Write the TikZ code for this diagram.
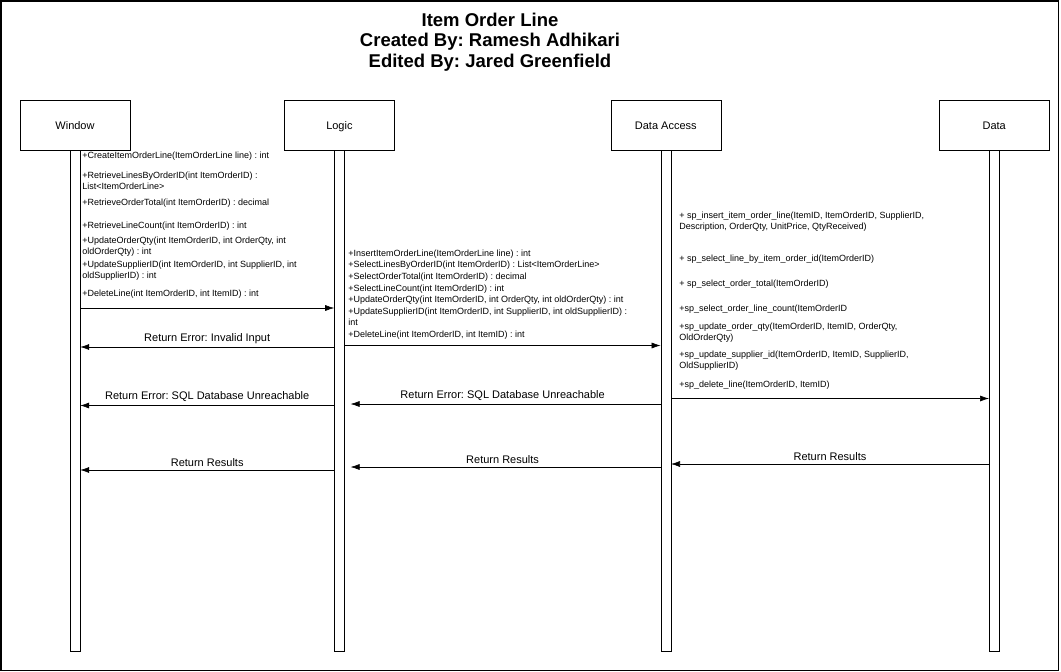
\documentclass[tikz,border=0pt]{standalone}
\usepackage{fontspec}
\setmainfont{Liberation Sans}
\usetikzlibrary{arrows,arrows.meta}
\usetikzlibrary{positioning}
\frenchspacing

\begin{document}
\begin{tikzpicture}[x=1pt,y=-1pt,>={Latex[length=9pt,width=6pt]},semithick]
  \tikzset{
    actor/.style={draw,thin,minimum width=110pt,minimum height=50pt,text height=9.5pt,text depth=0pt,font=\fontsize{11}{13}\selectfont},
    bar/.style={draw,thin,minimum width=10pt,minimum height=501pt,inner sep=0pt},
    meth/.style={anchor=north west,align=left,inner sep=0pt,font=\fontsize{9}{11}\selectfont},
    ret/.style={font=\fontsize{11}{13}\selectfont}
  }
  \useasboundingbox (0,0) rectangle (1061,672);
  \draw[line width=1.5pt] (1,1) rectangle (1058.5,670.5);

  \node[align=center,font=\bfseries\fontsize{18.5}{20.5}\selectfont] (title) at (490,42)
    {Item Order Line\\Created By: Ramesh Adhikari\\Edited By: Jared Greenfield};

  % lifelines
  \node[actor] (window) at (75,125) {Window};
  \node[actor] (logic) [right=154pt of window] {Logic};
  \node[actor] (dacc) [right=216pt of logic] {Data Access};
  \node[actor] (data) [right=218pt of dacc] {Data};

  \node[bar] (winbar) [below=0pt of window] {};
  \node[bar] (logbar) [below=0pt of logic] {};
  \node[bar] (dabar) [below=0pt of dacc] {};
  \node[bar] (databar) [below=0pt of data] {};

  % method lists
  \foreach \y/\txt [count=\i] in {
      151.5/{+CreateItemOrderLine(ItemOrderLine line) : int},
      171.5/{+RetrieveLinesByOrderID(int ItemOrderID) :\\List<ItemOrderLine>},
      198.5/{+RetrieveOrderTotal(int ItemOrderID) : decimal},
      221.5/{+RetrieveLineCount(int ItemOrderID) : int},
      236.5/{+UpdateOrderQty(int ItemOrderID, int OrderQty, int\\oldOrderQty) : int},
      260.5/{+UpdateSupplierID(int ItemOrderID, int SupplierID, int\\oldSupplierID) : int},
      289.5/{+DeleteLine(int ItemOrderID, int ItemID) : int}}
    \node[meth] (wm\i) at (82,\y) {\txt};

  \node[meth,font=\fontsize{9}{11.6}\selectfont] (lm) at (348,249.5)
    {+InsertItemOrderLine(ItemOrderLine line) : int\\
     +SelectLinesByOrderID(int ItemOrderID) : List<ItemOrderLine>\\
     +SelectOrderTotal(int ItemOrderID) : decimal\\
     +SelectLineCount(int ItemOrderID) : int\\
     +UpdateOrderQty(int ItemOrderID, int OrderQty, int oldOrderQty) : int\\
     +UpdateSupplierID(int ItemOrderID, int SupplierID, int oldSupplierID) :\\
     int\\
     +DeleteLine(int ItemOrderID, int ItemID) : int};

  \foreach \y/\txt [count=\i] in {
      211.5/{+ sp\_insert\_item\_order\_line(ItemID, ItemOrderID, SupplierID,\\Description, OrderQty, UnitPrice, QtyReceived)},
      254.5/{+ sp\_select\_line\_by\_item\_order\_id(ItemOrderID)},
      279.5/{+ sp\_select\_order\_total(ItemOrderID)},
      304.5/{+sp\_select\_order\_line\_count(ItemOrderID},
      322.5/{+sp\_update\_order\_qty(ItemOrderID, ItemID, OrderQty,\\OldOrderQty)},
      350.5/{+sp\_update\_supplier\_id(ItemOrderID, ItemID, SupplierID,\\OldSupplierID)},
      380.5/{+sp\_delete\_line(ItemOrderID, ItemID)}}
    \node[meth] (dm\i) at (679,\y) {\txt};

  % message rows
  \coordinate (m1) at (0,308);
  \coordinate (m2) at (0,345.5);
  \coordinate (m3) at (0,398.5);
  \coordinate (r1) at (0,347);
  \coordinate (r2) at (0,405.5);
  \coordinate (r3) at (0,404);
  \coordinate (r4) at (0,470);
  \coordinate (r5) at (0,467);
  \coordinate (r6) at (0,464);

  \draw[->] (winbar.east |- m1) -- (logbar.west |- m1);
  \draw[->] (logbar.east |- m2) -- (dabar.west |- m2);
  \draw[->] (dabar.east |- m3) -- (databar.west |- m3);

  \draw[->] (logbar.west |- r1) -- node[ret,above] (rl1) {Return Error: Invalid Input} (winbar.east |- r1);
  \draw[->] (logbar.west |- r2) -- node[ret,above] (rl2) {Return Error: SQL Database Unreachable} (winbar.east |- r2);
  \draw[->,shorten >=6pt] (dabar.west |- r3) -- node[ret,above] (rl3) {Return Error: SQL Database Unreachable} (logbar.east |- r3);
  \draw[->] (logbar.west |- r4) -- node[ret,above] (rl4) {Return Results} (winbar.east |- r4);
  \draw[->,shorten >=6pt] (dabar.west |- r5) -- node[ret,above] (rl5) {Return Results} (logbar.east |- r5);
  \draw[->] (databar.west |- r6) -- node[ret,above] (rl6) {Return Results} (dabar.east |- r6);
\end{tikzpicture}
\end{document}
